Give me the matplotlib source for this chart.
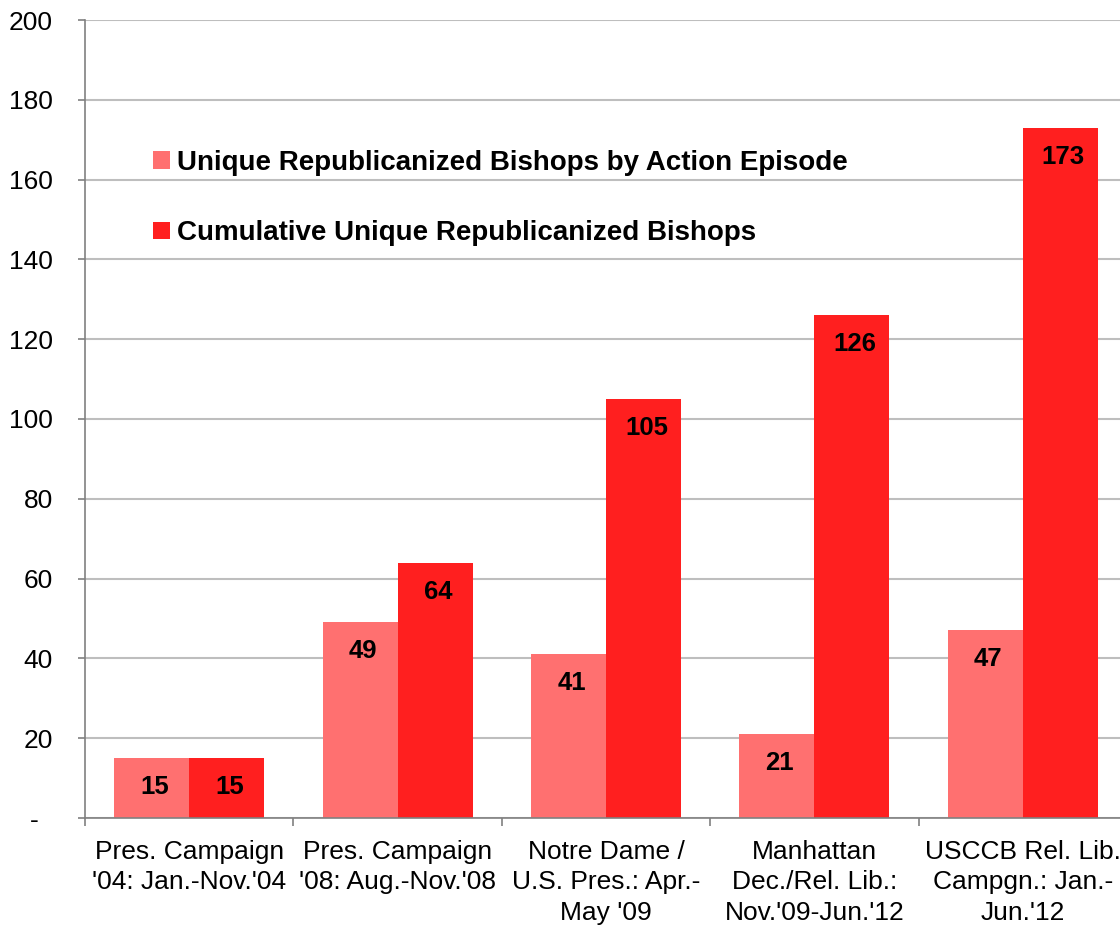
import matplotlib
matplotlib.use('Agg')
from matplotlib import pyplot as plt
import numpy as np

plt.rcParams['font.family'] = ['Liberation Sans', 'DejaVu Sans']

# эпизоды действий
episodes = [
    "Pres. Campaign\n'04: Jan.-Nov.'04",
    "Pres. Campaign\n'08: Aug.-Nov.'08",
    "Notre Dame /\nU.S. Pres.: Apr.-\nMay '09",
    "Manhattan\nDec./Rel. Lib.:\nNov.'09-Jun.'12",
    "USCCB Rel. Lib.\nCampgn.: Jan.-\nJun.'12",
]
by_episode = [15, 49, 41, 21, 47]
cumulative = [15, 64, 105, 126, 173]

series_names = ['Unique Republicanized Bishops by Action Episode',
                'Cumulative Unique Republicanized Bishops']

pale = '#FF7070'
red = '#FF1F1F'

fig = plt.figure(figsize=(11.2, 9.27), dpi=100)
ax = fig.add_axes([85/1120, 109/927, 1042/1120, 798/927])

x = np.arange(len(episodes))
w = 0.36
b1 = ax.bar(x - w/2, by_episode, w, color=pale, label=series_names[0], zorder=2)
b2 = ax.bar(x + w/2, cumulative, w, color=red, label=series_names[1], zorder=2)

# подписи значений внутри столбцов
for bars in (b1, b2):
    for r in bars:
        h = r.get_height()
        ax.annotate(f'{h:g}', (r.get_x() + r.get_width()/2, h),
                    xytext=(3, -29), textcoords='offset pixels',
                    ha='center', va='center', fontsize=18.5, fontweight='bold', zorder=3)

ax.set_xlim(-0.5, len(episodes) - 0.5)
ax.set_ylim(0, 200)
ax.set_yticks(range(0, 201, 20))
ax.set_yticklabels(['-  '] + [str(v) for v in range(20, 201, 20)], fontsize=19)
ax.yaxis.grid(True, color='#BEBEBE', linewidth=1.5, zorder=0)
ax.set_axisbelow(True)

ax.set_xticks(x)
ax.set_xticklabels(episodes, fontsize=19, linespacing=1.33)
ax.tick_params(axis='x', which='major', length=0, pad=16)
ax.set_xticks(np.arange(-0.5, len(episodes), 1), minor=True)
ax.tick_params(axis='x', which='minor', length=6, direction='out', color='#808080', width=1.2)
ax.tick_params(axis='y', length=5, direction='out', color='#808080', width=1.2, pad=18)

for s in ('top', 'right'):
    ax.spines[s].set_visible(False)
for s in ('left', 'bottom'):
    ax.spines[s].set_color('#808080')
    ax.spines[s].set_linewidth(1.2)

ax.legend(loc='upper left', bbox_to_anchor=(0.055, 0.851), frameon=False,
          prop={'size': 20, 'weight': 'bold'}, handlelength=0.6, handleheight=0.6,
          handletextpad=0.25, labelspacing=1.6, borderaxespad=0)

fig.savefig('out.png', dpi=100)
